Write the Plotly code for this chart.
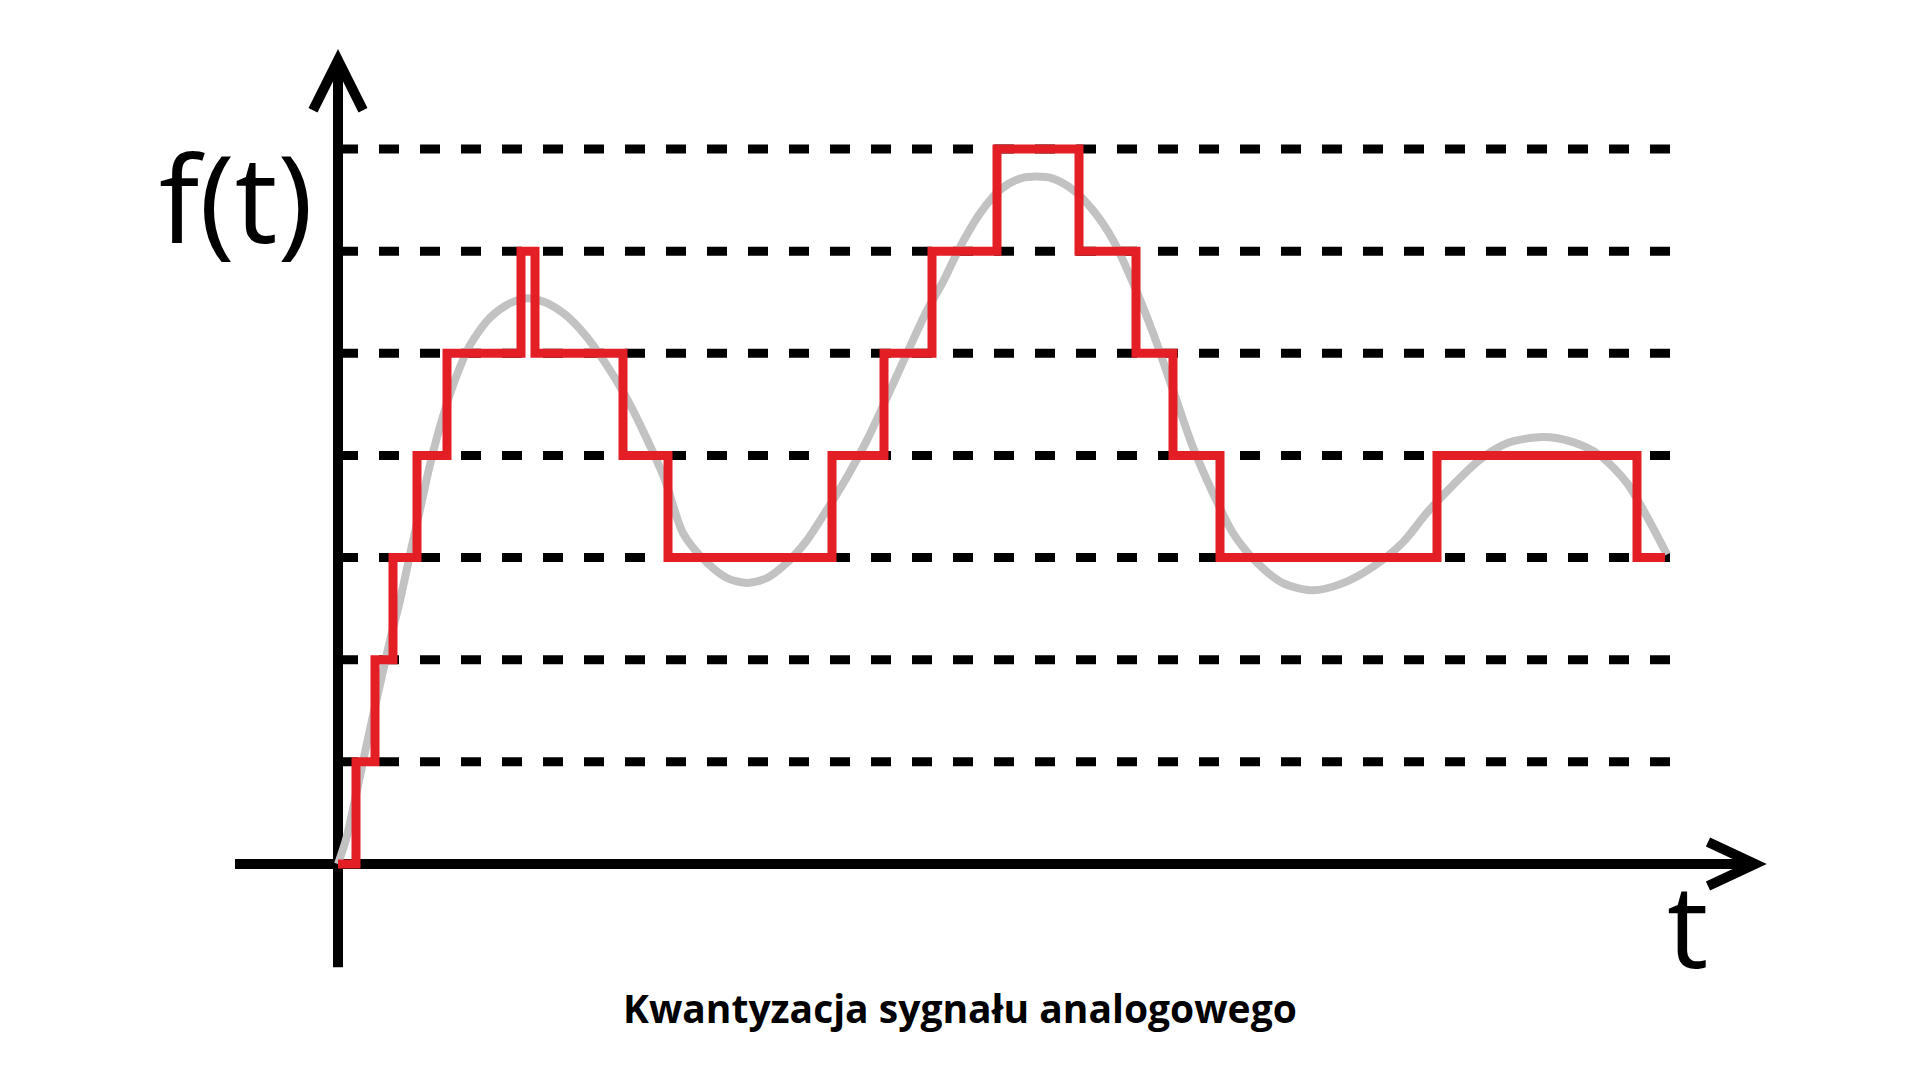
import plotly.graph_objects as go

# ---------------- data (t in arbitrary time units, f in quantization levels) ----------------
# quantized (red) signal: start time of each step and its level
step_t = [0.00, 0.18, 0.37, 0.55, 0.79, 1.09, 1.83, 1.97, 2.85, 3.30, 4.94,
          5.46, 5.94, 6.59, 7.41, 7.98, 8.35, 8.82, 10.99, 12.99, 13.27]
step_level = [0, 1, 2, 3, 4, 5, 6, 5, 4, 3, 4,
              5, 6, 7, 6, 5, 4, 3, 4, 3, 3]

# analog (gray) signal samples
analog_t = [0.00, 0.08, 0.17, 0.25, 0.34, 0.43, 0.52, 0.62, 0.72, 0.82, 0.92, 1.04,
            1.17, 1.32, 1.52, 1.72, 1.89, 2.07, 2.27, 2.47, 2.67, 2.87, 3.07, 3.27,
            3.45, 3.69, 3.89, 4.09, 4.29, 4.49, 4.69, 4.89, 5.09, 5.29, 5.49, 5.69,
            5.89, 6.05, 6.22, 6.42, 6.62, 6.82, 6.99, 7.15, 7.35, 7.55, 7.75, 7.95,
            8.15, 8.35, 8.55, 8.75, 8.95, 9.19, 9.45, 9.75, 10.05, 10.35, 10.65, 10.89,
            11.15, 11.42, 11.69, 12.05, 12.35, 12.62, 12.89, 13.09, 13.29]
analog_f = [0.00, 0.24, 0.63, 1.00, 1.41, 1.80, 2.19, 2.58, 3.03, 3.47, 3.91, 4.35,
            4.74, 5.08, 5.35, 5.49, 5.54, 5.50, 5.38, 5.18, 4.91, 4.59, 4.20, 3.76,
            3.24, 2.95, 2.80, 2.75, 2.80, 2.95, 3.17, 3.47, 3.79, 4.15, 4.57, 5.00,
            5.42, 5.70, 6.04, 6.37, 6.60, 6.71, 6.73, 6.71, 6.60, 6.40, 6.11, 5.69,
            5.20, 4.64, 4.08, 3.63, 3.24, 2.95, 2.75, 2.68, 2.75, 2.91, 3.15, 3.44,
            3.71, 3.96, 4.12, 4.18, 4.13, 4.00, 3.73, 3.40, 3.03]

# dashed quantization levels
levels = [1, 2, 3, 4, 5, 6, 7]
level_t_start, level_t_end = 0.0, 13.32

# axis geometry (data units)
x_axis_t = [-1.03, 14.17]
y_axis_f = [-1.01, 7.87]
x_arrow = {"tip": (14.17, 0.0), "back_t": 13.70, "half": 0.215}
y_arrow = {"tip": (0.0, 7.87), "back_f": 7.38, "half": 0.25}

labels = {"y": "f(t)", "x": "t", "caption": "Kwantyzacja sygnału analogowego"}

RED = "#e31e25"
GRAY = "#c2c2c2"

fig = go.Figure()

# dashed level lines
lx, ly = [], []
for lv in levels:
    lx += [level_t_start, level_t_end, None]
    ly += [lv, lv, None]
fig.add_trace(go.Scatter(x=lx, y=ly, mode="lines",
                         line=dict(color="black", width=9, dash="20px,21px"),
                         hoverinfo="skip", showlegend=False))

# analog signal
fig.add_trace(go.Scatter(x=analog_t, y=analog_f, mode="lines",
                         line=dict(color=GRAY, width=8, shape="spline", smoothing=0.8),
                         hoverinfo="skip", showlegend=False))

# axes as shapes (below traces)
shapes = [
    dict(type="line", xref="x", yref="y", x0=x_axis_t[0], x1=x_axis_t[1], y0=0, y1=0,
         line=dict(color="black", width=10), layer="below"),
    dict(type="line", xref="x", yref="y", x0=0, x1=0, y0=y_axis_f[0], y1=y_axis_f[1],
         line=dict(color="black", width=10), layer="below"),
]
tx, ty = x_arrow["tip"]
shapes.append(dict(type="path", xref="x", yref="y",
                   path=f"M {x_arrow['back_t']},{x_arrow['half']} L {tx},{ty} L {x_arrow['back_t']},{-x_arrow['half']}",
                   line=dict(color="black", width=10), layer="below"))
tx, ty = y_arrow["tip"]
shapes.append(dict(type="path", xref="x", yref="y",
                   path=f"M {-y_arrow['half']},{y_arrow['back_f']} L {tx},{ty} L {y_arrow['half']},{y_arrow['back_f']}",
                   line=dict(color="black", width=10), layer="below"))

# quantized signal
fig.add_trace(go.Scatter(x=step_t, y=step_level, mode="lines",
                         line=dict(color=RED, width=9, shape="hv"),
                         hoverinfo="skip", showlegend=False))

annotations = [
    dict(x=-1.02, y=6.54, xref="x", yref="y", text=labels["y"], showarrow=False,
         font=dict(family="Open Sans", size=120, color="black"), xanchor="center", yanchor="middle"),
    dict(x=13.49, y=-0.58, xref="x", yref="y", text=labels["x"], showarrow=False,
         font=dict(family="Open Sans", size=116, color="black"), xanchor="center", yanchor="middle"),
    dict(x=6.22, y=-1.40, xref="x", yref="y", text=f"<b>{labels['caption']}</b>", showarrow=False,
         font=dict(family="Open Sans", size=39, color="black"), xanchor="center", yanchor="middle"),
]

fig.update_layout(
    width=1920, height=1088,
    margin=dict(l=0, r=0, t=0, b=0),
    paper_bgcolor="white", plot_bgcolor="white",
    xaxis=dict(range=[-3.38, 15.82], visible=False, fixedrange=True),
    yaxis=dict(range=[-2.193, 8.459], visible=False, fixedrange=True),
    shapes=shapes, annotations=annotations, showlegend=False,
)

fig.write_html("out.html", config={"displayModeBar": False},
               post_script="document.body.style.margin='0';")
